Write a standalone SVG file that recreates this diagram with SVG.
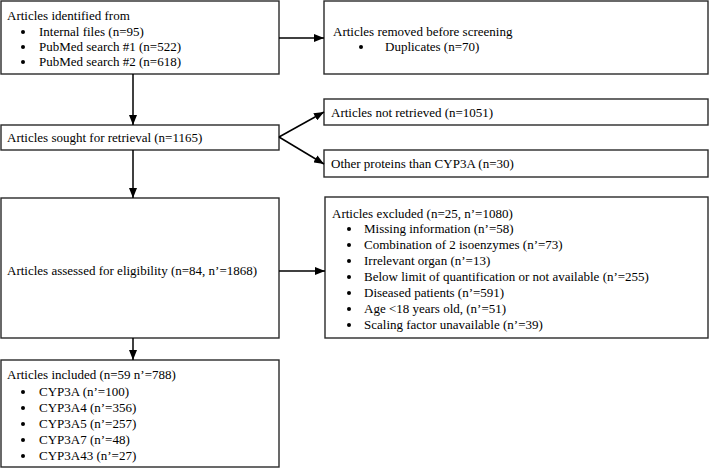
<svg xmlns="http://www.w3.org/2000/svg" width="709" height="468" viewBox="0 0 709 468">
<defs>
<marker id="ah" viewBox="0 0 10 8" refX="10" refY="4" markerWidth="10" markerHeight="8" markerUnits="userSpaceOnUse" orient="auto">
<path d="M0,0 L10,4 L0,8 Z" fill="#000"/>
</marker>
<style>
.box{fill:#fff;stroke:#2a2a2a;stroke-width:1.4}
.t{font-family:"Liberation Serif","Times New Roman",serif;font-size:13px;fill:#000}
.c{fill:none;stroke:#000;stroke-width:1.5;marker-end:url(#ah)}
.b{fill:#000}
</style>
</defs>
<rect width="709" height="468" fill="#fff"/>
<g id="identified">
<rect class="box" x="1" y="1" width="278" height="73"/>
<text class="t" x="7" y="20">Articles identified from</text>
<circle class="b" cx="23" cy="32" r="2"/><text class="t" x="39" y="36">Internal files (n=95)</text>
<circle class="b" cx="23" cy="47" r="2"/><text class="t" x="39" y="51">PubMed search #1 (n=522)</text>
<circle class="b" cx="23" cy="62" r="2"/><text class="t" x="39" y="66">PubMed search #2 (n=618)</text>
</g>
<g id="removed">
<rect class="box" x="324" y="1" width="384" height="73"/>
<text class="t" x="333" y="36">Articles removed before screening</text>
<circle class="b" cx="361" cy="47" r="2"/><text class="t" x="385" y="51">Duplicates (n=70)</text>
</g>
<g id="sought">
<rect class="box" x="1" y="125" width="278" height="25"/>
<text class="t" x="7" y="142">Articles sought for retrieval (n=1165)</text>
</g>
<g id="notretrieved">
<rect class="box" x="324" y="99" width="384" height="26"/>
<text class="t" x="331" y="117">Articles not retrieved (n=1051)</text>
</g>
<g id="otherproteins">
<rect class="box" x="324" y="150" width="384" height="27"/>
<text class="t" x="331" y="168">Other proteins than CYP3A (n=30)</text>
</g>
<g id="assessed">
<rect class="box" x="1" y="198" width="278" height="140"/>
<text class="t" x="7" y="275">Articles assessed for eligibility (n=84, n’=1868)</text>
</g>
<g id="excluded">
<rect class="box" x="325" y="197" width="383" height="141"/>
<text class="t" x="332" y="218">Articles excluded (n=25, n’=1080)</text>
<circle class="b" cx="349" cy="229" r="2"/><text class="t" x="364" y="233">Missing information (n’=58)</text>
<circle class="b" cx="349" cy="245" r="2"/><text class="t" x="364" y="249">Combination of 2 isoenzymes (n’=73)</text>
<circle class="b" cx="349" cy="261" r="2"/><text class="t" x="364" y="265">Irrelevant organ (n’=13)</text>
<circle class="b" cx="349" cy="277" r="2"/><text class="t" x="364" y="281">Below limit of quantification or not available (n’=255)</text>
<circle class="b" cx="349" cy="293" r="2"/><text class="t" x="364" y="297">Diseased patients (n’=591)</text>
<circle class="b" cx="349" cy="309" r="2"/><text class="t" x="364" y="313">Age &lt;18 years old, (n’=51)</text>
<circle class="b" cx="349" cy="325" r="2"/><text class="t" x="364" y="329">Scaling factor unavailable (n’=39)</text>
</g>
<g id="included">
<rect class="box" x="1" y="360" width="278" height="107"/>
<text class="t" x="7" y="379">Articles included (n=59 n’=788)</text>
<circle class="b" cx="23" cy="392" r="2"/><text class="t" x="39" y="396">CYP3A (n’=100)</text>
<circle class="b" cx="23" cy="408" r="2"/><text class="t" x="39" y="412">CYP3A4 (n’=356)</text>
<circle class="b" cx="23" cy="424" r="2"/><text class="t" x="39" y="428">CYP3A5 (n’=257)</text>
<circle class="b" cx="23" cy="440" r="2"/><text class="t" x="39" y="444">CYP3A7 (n’=48)</text>
<circle class="b" cx="23" cy="456" r="2"/><text class="t" x="39" y="460">CYP3A43 (n’=27)</text>
</g>
<g id="connectors">
<path class="c" d="M279,38 L324,38"/>
<path class="c" d="M133,74 L133,125"/>
<path class="c" d="M279,137 L324,112"/>
<path class="c" d="M279,137 L324,164"/>
<path class="c" d="M133,150 L133,198"/>
<path class="c" d="M279,271 L325,271"/>
<path class="c" d="M133,338 L133,360"/>
</g>
</svg>
